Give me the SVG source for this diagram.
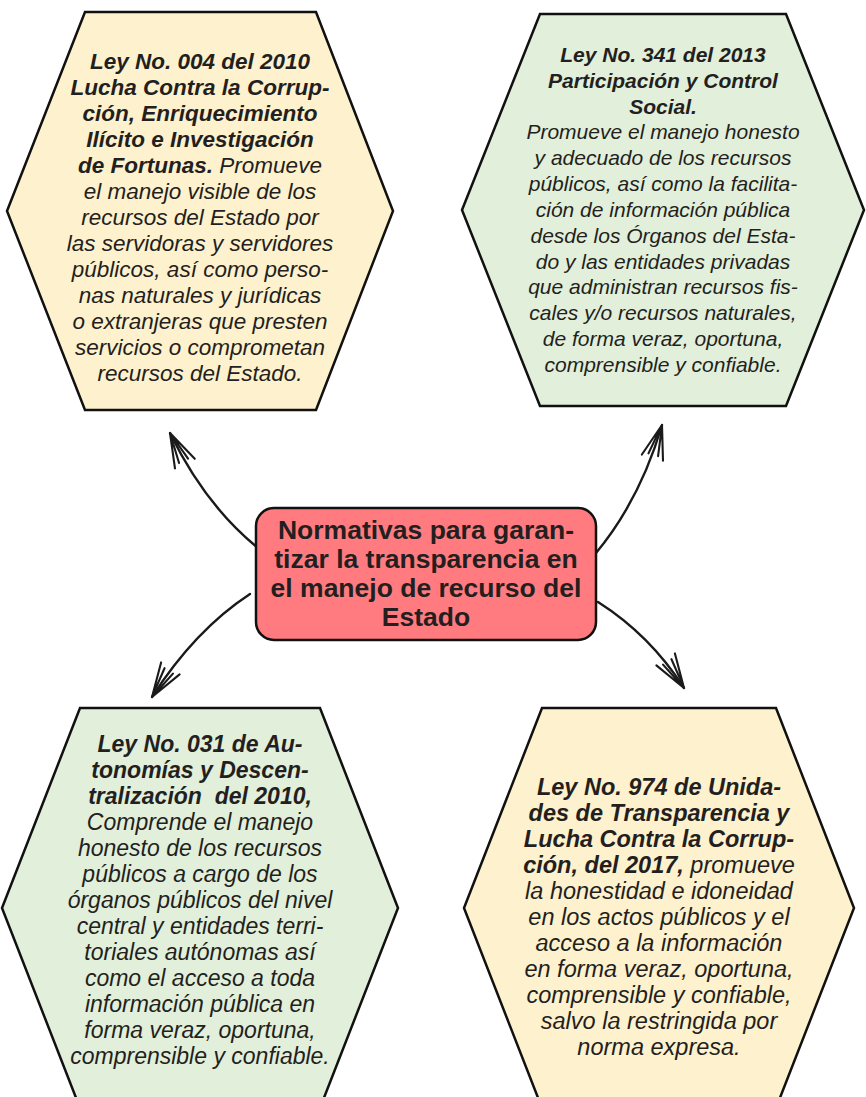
<svg xmlns="http://www.w3.org/2000/svg" width="866" height="1097" viewBox="0 0 866 1097">
<style>
.hex{stroke:#111;stroke-width:2.5;stroke-linejoin:miter}
.y{fill:#fef1cd}
.g{fill:#e2efda}
.t{font-family:"Liberation Sans",Arial,sans-serif;font-size:21px;font-style:italic;fill:#231f20;text-anchor:middle}
.s1{font-size:22.5px}
.s3{font-size:23px}
.s4{font-size:23.5px}
.b{font-weight:bold}
.n{font-weight:normal}
.c{font-family:"Liberation Sans",Arial,sans-serif;font-size:26.5px;font-weight:bold;fill:#231f20;text-anchor:middle}
.arr{fill:none;stroke:#1a1a1a;stroke-width:2.4;stroke-linecap:round;marker-end:url(#head)}
</style>
<defs>
<marker id="head" markerUnits="userSpaceOnUse" orient="auto" refX="0" refY="0" markerWidth="60" markerHeight="40" viewBox="-40 -20 60 40" overflow="visible">
<path d="M-34,-11 L0,0 L-34,11 M-31,-5 L-3,-0.5 M-31,5 L-3,0.5" fill="none" stroke="#1a1a1a" stroke-width="2.1" stroke-linecap="round" stroke-linejoin="round"/>
</marker>
</defs>
<rect width="866" height="1097" fill="#fff"/>
<g id="connectors">
<path class="arr" d="M258,548 Q205,505 170,433"/>
<path class="arr" d="M596,553 Q640,500 662,425"/>
<path class="arr" d="M250,594 Q195,630 152,697"/>
<path class="arr" d="M598,602 Q650,635 684,688"/>
</g>
<g id="ley004">
<polygon class="hex y" points="85,12 316,12 393,211 316,410 85,410 7,211"/>
<g class="s1">
<text class="t s1 b" x="200" y="69">Ley No. 004 del 2010</text>
<text class="t s1 b" x="200" y="95">Lucha Contra la Corrup-</text>
<text class="t s1 b" x="200" y="121">ción, Enriquecimiento</text>
<text class="t s1 b" x="200" y="147">Ilícito e Investigación</text>
<text class="t s1 b" x="200" y="173">de Fortunas.<tspan class="n"> Promueve</tspan></text>
<text class="t s1" x="200" y="199">el manejo visible de los</text>
<text class="t s1" x="200" y="225">recursos del Estado por</text>
<text class="t s1" x="200" y="251">las servidoras y servidores</text>
<text class="t s1" x="200" y="277">públicos, así como perso-</text>
<text class="t s1" x="200" y="303">nas naturales y jurídicas</text>
<text class="t s1" x="200" y="329">o extranjeras que presten</text>
<text class="t s1" x="200" y="355">servicios o comprometan</text>
<text class="t s1" x="200" y="381">recursos del Estado.</text>
</g>
</g>
<g id="ley341">
<polygon class="hex g" points="540,14 786,14 864,210 786,406 540,406 462,210"/>
<text class="t b" x="663" y="62">Ley No. 341 del 2013</text>
<text class="t b" x="663" y="88">Participación y Control</text>
<text class="t b" x="663" y="114">Social.</text>
<text class="t" x="663" y="139">Promueve el manejo honesto</text>
<text class="t" x="663" y="165">y adecuado de los recursos</text>
<text class="t" x="663" y="191">públicos, así como la facilita-</text>
<text class="t" x="663" y="217">ción de información pública</text>
<text class="t" x="663" y="243">desde los Órganos del Esta-</text>
<text class="t" x="663" y="269">do y las entidades privadas</text>
<text class="t" x="663" y="294">que administran recursos fis-</text>
<text class="t" x="663" y="320">cales y/o recursos naturales,</text>
<text class="t" x="663" y="346">de forma veraz, oportuna,</text>
<text class="t" x="663" y="372">comprensible y confiable.</text>
</g>
<g id="center">
<rect x="256" y="508" width="340" height="132" rx="18" fill="#ff7b7f" stroke="#111" stroke-width="2.5"/>
<text class="c" x="426" y="539">Normativas para garan-</text>
<text class="c" x="426" y="568">tizar la transparencia en</text>
<text class="c" x="426" y="597">el manejo de recurso del</text>
<text class="c" x="426" y="626">Estado</text>
</g>
<g id="ley031">
<polygon class="hex g" points="80,708 320,708 398,908 320,1108 80,1108 2,908"/>
<text class="t s3 b" x="200" y="752">Ley No. 031 de Au-</text>
<text class="t s3 b" x="200" y="778">tonomías y Descen-</text>
<text class="t s3 b" x="200" y="804" xml:space="preserve">tralización  del 2010,</text>
<text class="t s3" x="200" y="830">Comprende el manejo</text>
<text class="t s3" x="200" y="856">honesto de los recursos</text>
<text class="t s3" x="200" y="882">públicos a cargo de los</text>
<text class="t s3" x="200" y="908">órganos públicos del nivel</text>
<text class="t s3" x="200" y="934">central y entidades terri-</text>
<text class="t s3" x="200" y="960">toriales autónomas así</text>
<text class="t s3" x="200" y="986">como el acceso a toda</text>
<text class="t s3" x="200" y="1012">información pública en</text>
<text class="t s3" x="200" y="1038">forma veraz, oportuna,</text>
<text class="t s3" x="200" y="1064">comprensible y confiable.</text>
</g>
<g id="ley974">
<polygon class="hex y" points="542,708 776,708 854,908 776,1108 542,1108 464,908"/>
<text class="t s4 b" x="659" y="795">Ley No. 974 de Unida-</text>
<text class="t s4 b" x="659" y="821">des de Transparencia y</text>
<text class="t s4 b" x="659" y="847">Lucha Contra la Corrup-</text>
<text class="t s4 b" x="659" y="873">ción, del 2017,<tspan class="n"> promueve</tspan></text>
<text class="t s4" x="659" y="899">la honestidad e idoneidad</text>
<text class="t s4" x="659" y="925">en los actos públicos y el</text>
<text class="t s4" x="659" y="951">acceso a la información</text>
<text class="t s4" x="659" y="977">en forma veraz, oportuna,</text>
<text class="t s4" x="659" y="1003">comprensible y confiable,</text>
<text class="t s4" x="659" y="1029">salvo la restringida por</text>
<text class="t s4" x="659" y="1055">norma expresa.</text>
</g>
</svg>
